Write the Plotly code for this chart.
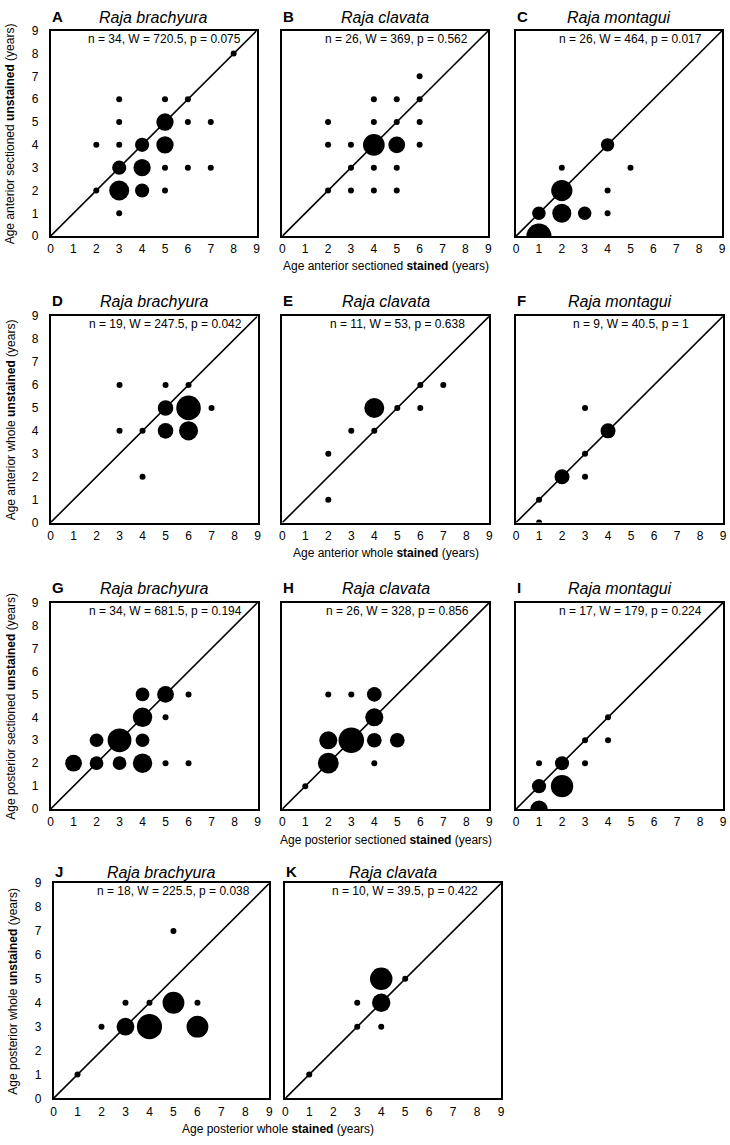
import math
import plotly.graph_objects as go

# ---------------- data ----------------
panel_letters = ["A", "B", "C", "D", "E", "F", "G", "H", "I", "J", "K"]
species = ["Raja brachyura", "Raja clavata", "Raja montagui",
           "Raja brachyura", "Raja clavata", "Raja montagui",
           "Raja brachyura", "Raja clavata", "Raja montagui",
           "Raja brachyura", "Raja clavata"]
stats = ["n = 34, W = 720.5, p = 0.075", "n = 26, W = 369, p = 0.562", "n = 26, W = 464, p = 0.017",
         "n = 19, W = 247.5, p = 0.042", "n = 11, W = 53, p = 0.638", "n = 9, W = 40.5, p = 1",
         "n = 34, W = 681.5, p = 0.194", "n = 26, W = 328, p = 0.856", "n = 17, W = 179, p = 0.224",
         "n = 18, W = 225.5, p = 0.038", "n = 10, W = 39.5, p = 0.422"]

# stained age (x), unstained age (y), number of fish (count)
A_x = [8, 3, 5, 6, 3, 5, 6, 7, 2, 3, 4, 5, 3, 4, 5, 6, 7, 2, 3, 4, 5, 3]
A_y = [8, 6, 6, 6, 5, 5, 5, 5, 4, 4, 4, 4, 3, 3, 3, 3, 3, 2, 2, 2, 2, 1]
A_n = [1, 1, 1, 1, 1, 3, 1, 1, 1, 1, 2, 3, 2, 3, 1, 1, 1, 1, 4, 2, 1, 1]

B_x = [6, 4, 5, 6, 2, 4, 5, 6, 2, 3, 4, 5, 6, 3, 4, 5, 2, 3, 4, 5]
B_y = [7, 6, 6, 6, 5, 5, 5, 5, 4, 4, 4, 4, 4, 3, 3, 3, 2, 2, 2, 2]
B_n = [1, 1, 1, 1, 1, 1, 1, 1, 1, 1, 5, 3, 1, 1, 1, 1, 1, 1, 1, 1]

C_x = [4, 2, 5, 2, 4, 1, 2, 3, 4, 1]
C_y = [4, 3, 3, 2, 2, 1, 1, 1, 1, 0]
C_n = [2, 1, 1, 5, 1, 2, 4, 2, 1, 7]

D_x = [3, 5, 6, 5, 6, 7, 3, 4, 5, 6, 4]
D_y = [6, 6, 6, 5, 5, 5, 4, 4, 4, 4, 2]
D_n = [1, 1, 1, 2, 5, 1, 1, 1, 2, 3, 1]

E_x = [6, 7, 4, 5, 6, 3, 4, 2, 2]
E_y = [6, 6, 5, 5, 5, 4, 4, 3, 1]
E_n = [1, 1, 3, 1, 1, 1, 1, 1, 1]

F_x = [3, 4, 3, 2, 3, 1, 1]
F_y = [5, 4, 3, 2, 2, 1, 0]
F_n = [1, 2, 1, 2, 1, 1, 1]

G_x = [4, 5, 6, 4, 5, 2, 3, 4, 1, 2, 3, 4, 5, 6]
G_y = [5, 5, 5, 4, 4, 3, 3, 3, 2, 2, 2, 2, 2, 2]
G_n = [2, 3, 1, 4, 1, 2, 6, 2, 3, 2, 2, 4, 1, 1]

H_x = [2, 3, 4, 4, 2, 3, 4, 5, 2, 4, 1]
H_y = [5, 5, 5, 4, 3, 3, 3, 3, 2, 2, 1]
H_n = [1, 1, 2, 3, 3, 6, 2, 2, 4, 1, 1]

I_x = [4, 3, 4, 1, 2, 3, 1, 2, 1]
I_y = [4, 3, 3, 2, 2, 2, 1, 1, 0]
I_n = [1, 1, 1, 1, 2, 1, 2, 5, 3]

J_x = [5, 3, 4, 5, 6, 2, 3, 4, 6, 1]
J_y = [7, 4, 4, 4, 4, 3, 3, 3, 3, 1]
J_n = [1, 1, 1, 3, 1, 1, 2, 4, 3, 1]

K_x = [4, 5, 3, 4, 3, 4, 1]
K_y = [5, 5, 4, 4, 3, 3, 1]
K_n = [3, 1, 1, 2, 1, 1, 1]

tick_values = [0, 1, 2, 3, 4, 5, 6, 7, 8, 9]
line_of_equality = [0, 9]

y_titles = ["Age anterior sectioned <b>unstained</b> (years)",
            "Age anterior whole <b>unstained</b> (years)",
            "Age posterior sectioned <b>unstained</b> (years)",
            "Age posterior whole <b>unstained</b> (years)"]
x_titles = ["Age anterior sectioned <b>stained</b> (years)",
            "Age anterior whole <b>stained</b> (years)",
            "Age posterior sectioned <b>stained</b> (years)",
            "Age posterior whole <b>stained</b> (years)"]

panel_data = [(A_x, A_y, A_n), (B_x, B_y, B_n), (C_x, C_y, C_n),
              (D_x, D_y, D_n), (E_x, E_y, E_n), (F_x, F_y, F_n),
              (G_x, G_y, G_n), (H_x, H_y, H_n), (I_x, I_y, I_n),
              (J_x, J_y, J_n), (K_x, K_y, K_n)]

# ---------------- layout / style ----------------
W, H = 730, 1145
FONT = "Arial, Liberation Sans, sans-serif"
row_top = [24, 313, 603, 887]
row_size = [208, 209, 209, 218]
col_left = [[48, 282, 518], [48, 282, 518], [48, 282, 518], [51, 285]]
label_off = [14, 16, 15, 12]          # px above plot top for panel letter / title
xtitle_y = [262, 553, 843, 1136]
xtitle_x = [386.5, 386.5, 386.5, 277.5]
bubble_scale = [10, 9.7, 9.5, 11, 11.5, 10.6, 9.7, 10.4, 10, 12.6, 13]
single_dot = 6


def px_x(v):
    return v / W


def px_y(v):
    return 1 - v / H


fig = go.Figure()
annotations = []
idx = 0
for r in range(4):
    for c, left in enumerate(col_left[r]):
        i = idx
        ax = "" if i == 0 else str(i + 1)
        xs, ys, ns = panel_data[i]
        size = row_size[r]
        top = row_top[r]
        k = bubble_scale[i]
        sizes = [single_dot if n == 1 else k * math.sqrt(n) for n in ns]

        fig.add_trace(go.Scatter(x=line_of_equality, y=line_of_equality, mode="lines",
                                 line=dict(color="black", width=1.6),
                                 xaxis="x" + ax, yaxis="y" + ax, showlegend=False,
                                 hoverinfo="skip"))
        fig.add_trace(go.Scatter(x=xs, y=ys, mode="markers",
                                 marker=dict(color="black", size=sizes, line=dict(width=0),
                                             opacity=1),
                                 cliponaxis=True, text=[str(n) for n in ns],
                                 xaxis="x" + ax, yaxis="y" + ax, showlegend=False))

        axis_common = dict(range=[0, 9], tickvals=tick_values, showgrid=False, zeroline=False,
                           showline=True, mirror=True, linecolor="black", linewidth=1.5,
                           ticks="", tickfont=dict(family=FONT, size=12, color="black"),
                           fixedrange=True)
        fig.layout["xaxis" + ax] = dict(axis_common,
                                        domain=[px_x(left), px_x(left + size)],
                                        anchor="y" + ax, ticklabelstandoff=1)
        fig.layout["yaxis" + ax] = dict(axis_common,
                                        domain=[px_y(top + size), px_y(top)],
                                        anchor="x" + ax, showticklabels=(c == 0),
                                        ticklabelstandoff=8)

        # panel letter
        annotations.append(dict(text="<b>" + panel_letters[i] + "</b>", xref="paper", yref="paper",
                                x=px_x(left - 1), y=px_y(top - label_off[r]), xanchor="left",
                                yanchor="middle", showarrow=False,
                                font=dict(family=FONT, size=15, color="black")))
        # species title
        annotations.append(dict(text="<i>" + species[i] + "</i>", xref="paper", yref="paper",
                                x=px_x(left + size / 2), y=px_y(top - label_off[r] + 1),
                                xanchor="center", yanchor="middle", showarrow=False,
                                font=dict(family=FONT, size=16, color="black")))
        # statistics
        annotations.append(dict(text=stats[i], xref="x" + ax + " domain", yref="y" + ax + " domain",
                                x=0.555, y=1 - 8 / size, xanchor="center", yanchor="middle",
                                showarrow=False, font=dict(family=FONT, size=12, color="black")))
        idx += 1

    # y-axis title for the row
    annotations.append(dict(text=y_titles[r], xref="paper", yref="paper",
                            x=px_x(8 if r < 3 else 10), y=px_y(row_top[r] + row_size[r] / 2),
                            xanchor="center", yanchor="middle", textangle=-90, showarrow=False,
                            font=dict(family=FONT, size=12, color="black")))
    # x-axis title for the row
    annotations.append(dict(text=x_titles[r], xref="paper", yref="paper",
                            x=px_x(xtitle_x[r]), y=px_y(xtitle_y[r]),
                            xanchor="center", yanchor="middle", showarrow=False,
                            font=dict(family=FONT, size=12, color="black")))

fig.update_layout(width=W, height=H, margin=dict(l=0, r=0, t=0, b=0),
                  paper_bgcolor="white", plot_bgcolor="white",
                  annotations=annotations, hovermode="closest",
                  font=dict(family=FONT, size=12, color="black"))

fig.write_html("out.html")
